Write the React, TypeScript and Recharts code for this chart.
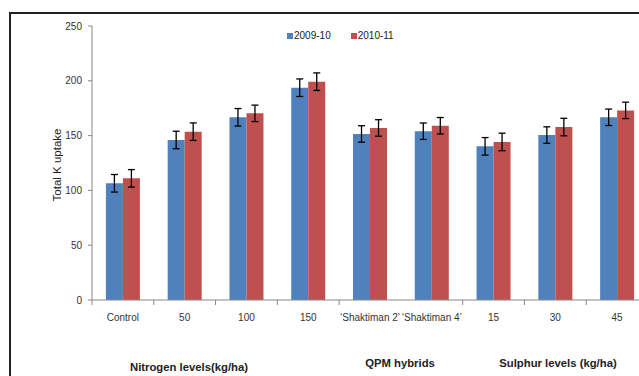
import React from 'react';
import { BarChart, Bar, XAxis, YAxis, ErrorBar } from 'recharts';

const categories = ['Control', '50', '100', '150', '‘Shaktiman 2’', '‘Shaktiman 4’', '15', '30', '45'];
const series2009 = [106.5, 146, 166.7, 193.7, 151.5, 154, 140.2, 150.5, 166.7];
const series2010 = [111, 153.6, 170.3, 199.2, 157, 159, 144.2, 157.8, 173];
const err2009 = [8, 8, 8, 8, 7.5, 7.5, 8, 7.5, 7.5];
const err2010 = [8, 8, 7.5, 8, 7.5, 7.5, 8, 8, 7.5];
const yTicks = [0, 50, 100, 150, 200, 250];
const seriesNames = ['2009-10', '2010-11'];
const yTitle = 'Total K uptake';
const groupLabels = ['Nitrogen levels(kg/ha)', 'QPM hybrids', 'Sulphur levels (kg/ha)'];

const data = categories.map((c, i) => ({
  name: c,
  a: series2009[i],
  b: series2010[i],
  ea: err2009[i],
  eb: err2010[i],
}));

const BLUE = '#4F81BD';
const RED = '#C0504D';
const FONT = '"Liberation Sans", Arial, sans-serif';

const XTick = (props: any) => {
  const { x, y, payload, index } = props;
  const off = payload && payload.offset ? payload.offset : 30.9;
  return (
    <g>
      {index !== 5 && (
        <line x1={x - off} x2={x - off} y1={y} y2={y + 5} stroke="#888" strokeWidth={1} />
      )}
      <text x={x} y={y + 20.5} textAnchor="middle" fontSize={10} fill="#333" fontFamily={FONT}>
        {payload.value}
      </text>
    </g>
  );
};

export default function App() {
  return (
    <div style={{ position: 'absolute', left: 0, top: 0, width: 639, height: 376, overflow: 'hidden', background: '#fff' }}>
      <div style={{ position: 'absolute', left: 9, top: 12, width: 700, height: 400, borderTop: '2px solid #222', borderLeft: '2px solid #222' }} />
      <div style={{ position: 'absolute', left: 0, top: 0 }}>
        <BarChart
          width={660}
          height={400}
          data={data}
          margin={{ top: 26, right: 12, bottom: 70, left: 32 }}
          barCategoryGap="22.5%"
          barGap={0}
        >
          <YAxis
            width={60}
            domain={[0, 250]}
            ticks={yTicks}
            interval={0}
            tickSize={4}
            tickMargin={6}
            axisLine={{ stroke: '#888' }}
            tickLine={{ stroke: '#888' }}
            tick={{ fontSize: 10, fill: '#333', fontFamily: FONT }}
          />
          <XAxis
            dataKey="name"
            height={30}
            interval={0}
            tickSize={0}
            tickMargin={0}
            tickLine={false}
            axisLine={{ stroke: '#888' }}
            tick={<XTick />}
          />
          <Bar dataKey="a" fill={BLUE} isAnimationActive={false}>
            <ErrorBar dataKey="ea" width={3.5} stroke="#000" strokeWidth={1.3} direction="y" />
          </Bar>
          <Bar dataKey="b" fill={RED} isAnimationActive={false}>
            <ErrorBar dataKey="eb" width={3.5} stroke="#000" strokeWidth={1.3} direction="y" />
          </Bar>
        </BarChart>
      </div>
      <svg style={{ position: 'absolute', left: 0, top: 0 }} width={120} height={376}>
        <text
          x={57}
          y={165}
          transform="rotate(-90 57 165)"
          textAnchor="middle"
          dominantBaseline="central"
          fontSize={11.5}
          fill="#222"
          fontFamily={FONT}
        >
          {yTitle}
        </text>
      </svg>
      <div style={{ position: 'absolute', left: 287, top: 30, display: 'flex', alignItems: 'center', fontFamily: FONT, fontSize: 10, color: '#222' }}>
        <span style={{ display: 'inline-block', width: 6, height: 6, background: BLUE, marginRight: 1 }} />
        <span>{seriesNames[0]}</span>
        <span style={{ display: 'inline-block', width: 6, height: 6, background: RED, marginLeft: 20, marginRight: 1 }} />
        <span>{seriesNames[1]}</span>
      </div>
      {groupLabels.map((g, i) => (
        <div
          key={g}
          style={{
            position: 'absolute',
            left: [189, 400, 558][i] - 100,
            width: 200,
            top: [361, 357, 357][i],
            textAlign: 'center',
            fontFamily: FONT,
            fontSize: 11.3,
            fontWeight: 'bold',
            color: '#222',
          }}
        >
          {g}
        </div>
      ))}
    </div>
  );
}
